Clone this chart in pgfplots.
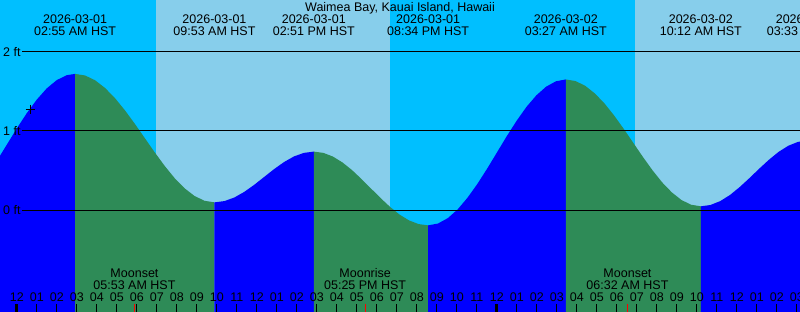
\documentclass[border=0pt]{standalone}
\usepackage{pgfplots}
\pgfplotsset{compat=1.18}
\usepackage{fontspec}
\setmainfont{Liberation Sans}
\definecolor{nightsky}{HTML}{00BFFF}
\definecolor{daysky}{HTML}{87CEEB}
\definecolor{tideblue}{HTML}{0000FF}
\definecolor{tidegreen}{HTML}{2E8B57}
\newcommand{\lf}{\fontsize{12.5}{15}\selectfont}
\begin{document}
\begin{tikzpicture}
\useasboundingbox (0,0) rectangle (800pt,312pt);
\clip (0,0) rectangle (800pt,312pt);
\begin{axis}[
  at={(0,0)}, anchor=south west,
  scale only axis, width=800pt, height=312pt,
  xmin=-0.84, xmax=39.16, ymin=-1.2825, ymax=2.652,
  axis line style={draw=none},
  axis on top=true,
  ytick=\empty,
  xtick pos=left,
  tick align=inside,
  major tick length=8pt,
  xtick={-1,0,...,40},
  xticklabels={11,12,01,02,03,04,05,06,07,08,09,10,11,12,01,02,03,04,05,06,07,08,09,10,11,12,01,02,03,04,05,06,07,08,09,10,11,12,01,02,03,04},
  xticklabel style={font=\lf, anchor=base, yshift=10.3pt, inner sep=0pt},
  x tick style={black, line width=1pt},
  extra x ticks={0,24},
  extra x tick labels={},
  extra x tick style={x tick style={black, line width=3pt}},
]
% sky background
\addplot[fill=nightsky, draw=none] coordinates {(-1,-2) (-1,3) (6.96,3) (6.96,-2)} -- cycle;
\addplot[fill=daysky, draw=none] coordinates {(6.96,-2) (6.96,3) (18.66,3) (18.66,-2)} -- cycle;
\addplot[fill=nightsky, draw=none] coordinates {(18.66,-2) (18.66,3) (30.91,3) (30.91,-2)} -- cycle;
\addplot[fill=daysky, draw=none] coordinates {(30.91,-2) (30.91,3) (40,3) (40,-2)} -- cycle;
% tide: rising (blue) and falling (green)
\addplot[fill=tideblue, draw=none] coordinates {(-1,-2) (-1,0.622) (-0.5,0.827) (0,1.032) (0.5,1.225) (1,1.396) (1.5,1.538) (2,1.642) (2.5,1.704) (2.917,1.72) (2.917,-2)} -- cycle;
\addplot[fill=tidegreen, draw=none] coordinates {(2.917,-2) (2.917,1.72) (3.415,1.700) (3.912,1.640) (4.410,1.543) (4.907,1.415) (5.405,1.261) (5.903,1.090) (6.400,0.910) (6.898,0.730) (7.396,0.559) (7.893,0.405) (8.391,0.277) (8.888,0.180) (9.386,0.120) (9.883,0.10) (9.883,-2)} -- cycle;
\addplot[fill=tideblue, draw=none] coordinates {(9.883,-2) (9.883,0.10) (10.380,0.116) (10.876,0.161) (11.373,0.232) (11.870,0.321) (12.367,0.420) (12.863,0.519) (13.360,0.608) (13.857,0.679) (14.353,0.724) (14.85,0.74) (14.85,-2)} -- cycle;
\addplot[fill=tidegreen, draw=none] coordinates {(14.85,-2) (14.85,0.74) (15.326,0.724) (15.803,0.678) (16.279,0.604) (16.756,0.508) (17.232,0.395) (17.709,0.275) (18.185,0.155) (18.661,0.043) (19.138,-0.054) (19.614,-0.128) (20.091,-0.174) (20.567,-0.19) (20.567,-2)} -- cycle;
\addplot[fill=tideblue, draw=none] coordinates {(20.567,-2) (20.567,-0.19) (21.059,-0.167) (21.550,-0.099) (22.042,0.011) (22.534,0.158) (23.025,0.331) (23.517,0.525) (24.009,0.730) (24.500,0.935) (24.992,1.129) (25.484,1.304) (25.975,1.449) (26.467,1.559) (26.958,1.627) (27.45,1.65) (27.45,-2)} -- cycle;
\addplot[fill=tidegreen, draw=none] coordinates {(27.45,-2) (27.45,1.65) (27.932,1.630) (28.414,1.571) (28.896,1.475) (29.379,1.349) (29.861,1.197) (30.343,1.028) (30.825,0.850) (31.307,0.672) (31.789,0.503) (32.271,0.351) (32.754,0.225) (33.236,0.129) (33.718,0.070) (34.2,0.05) (34.2,-2)} -- cycle;
\addplot[fill=tideblue, draw=none] coordinates {(34.2,-2) (34.2,0.05) (34.686,0.067) (35.173,0.116) (35.659,0.193) (36.145,0.293) (36.632,0.406) (37.118,0.524) (37.605,0.637) (38.091,0.737) (38.577,0.814) (39.064,0.863) (39.55,0.88) (39.55,-2)} -- cycle;
% level lines
\addplot[black, line width=1pt] coordinates {(0.26,2) (40,2)};
\addplot[black, line width=1pt] coordinates {(0.26,1) (40,1)};
\addplot[black, line width=1pt] coordinates {(0.26,0) (40,0)};
% current position marker
\addplot[black, only marks, mark=+, mark size=4.5pt, line width=1pt] coordinates {(0.66,1.277)};
% moon event ticks
\addplot[red, line width=1pt] coordinates {(5.883,-1.3) (5.883,-1.1816)};
\addplot[red, line width=1pt] coordinates {(17.417,-1.3) (17.417,-1.1816)};
\addplot[red, line width=1pt] coordinates {(30.533,-1.3) (30.533,-1.1816)};
% labels
\node[font=\lf, anchor=west, inner sep=0pt] at (axis cs:-0.69,2) {2 ft};
\node[font=\lf, anchor=west, inner sep=0pt] at (axis cs:-0.69,1) {1 ft};
\node[font=\lf, anchor=west, inner sep=0pt] at (axis cs:-0.69,0) {0 ft};
\node[font=\lf, anchor=base, inner sep=0pt] at (axis cs:19.16,2.507) {Waimea Bay, Kauai Island, Hawaii};
\node[font=\lf, anchor=base, inner sep=0pt] at (axis cs:2.917,2.356) {2026-03-01};
\node[font=\lf, anchor=base, inner sep=0pt] at (axis cs:2.917,2.198) {02:55 AM HST};
\node[font=\lf, anchor=base, inner sep=0pt] at (axis cs:9.883,2.356) {2026-03-01};
\node[font=\lf, anchor=base, inner sep=0pt] at (axis cs:9.883,2.198) {09:53 AM HST};
\node[font=\lf, anchor=base, inner sep=0pt] at (axis cs:14.85,2.356) {2026-03-01};
\node[font=\lf, anchor=base, inner sep=0pt] at (axis cs:14.85,2.198) {02:51 PM HST};
\node[font=\lf, anchor=base, inner sep=0pt] at (axis cs:20.567,2.356) {2026-03-01};
\node[font=\lf, anchor=base, inner sep=0pt] at (axis cs:20.567,2.198) {08:34 PM HST};
\node[font=\lf, anchor=base, inner sep=0pt] at (axis cs:27.45,2.356) {2026-03-02};
\node[font=\lf, anchor=base, inner sep=0pt] at (axis cs:27.45,2.198) {03:27 AM HST};
\node[font=\lf, anchor=base, inner sep=0pt] at (axis cs:34.2,2.356) {2026-03-02};
\node[font=\lf, anchor=base, inner sep=0pt] at (axis cs:34.2,2.198) {10:12 AM HST};
\node[font=\lf, anchor=base, inner sep=0pt] at (axis cs:39.55,2.356) {2026-03-02};
\node[font=\lf, anchor=base, inner sep=0pt] at (axis cs:39.55,2.198) {03:33 PM HST};
\node[font=\lf, anchor=base, inner sep=0pt] at (axis cs:5.883,-0.850) {Moonset};
\node[font=\lf, anchor=base, inner sep=0pt] at (axis cs:5.883,-1.001) {05:53 AM HST};
\node[font=\lf, anchor=base, inner sep=0pt] at (axis cs:17.417,-0.850) {Moonrise};
\node[font=\lf, anchor=base, inner sep=0pt] at (axis cs:17.417,-1.001) {05:25 PM HST};
\node[font=\lf, anchor=base, inner sep=0pt] at (axis cs:30.533,-0.850) {Moonset};
\node[font=\lf, anchor=base, inner sep=0pt] at (axis cs:30.533,-1.001) {06:32 AM HST};
\end{axis}
\end{tikzpicture}
\end{document}
